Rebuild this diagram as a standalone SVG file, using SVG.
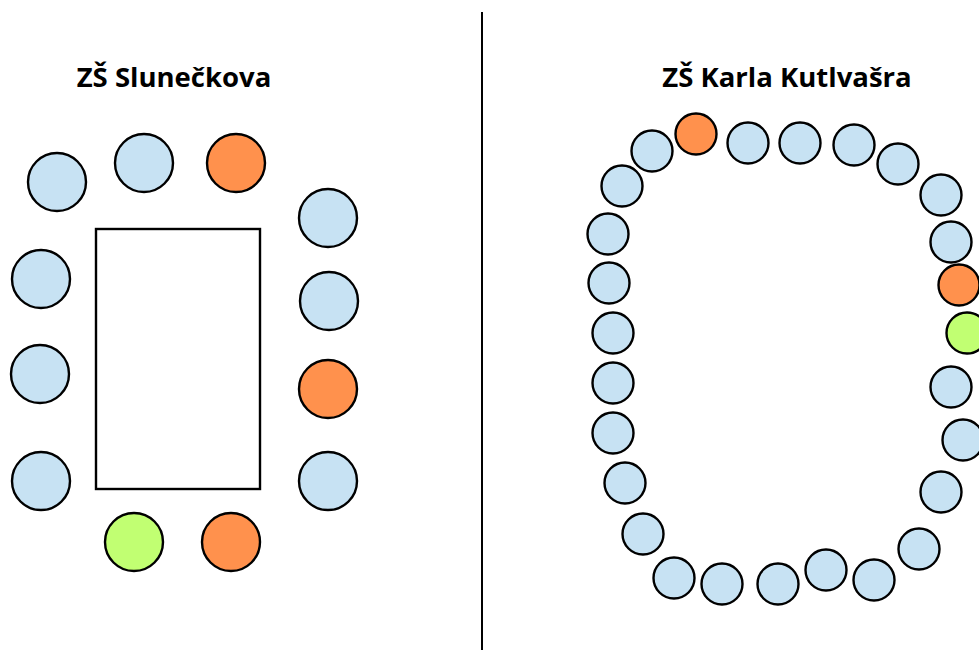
<svg xmlns="http://www.w3.org/2000/svg" width="979" height="650" viewBox="0 0 979 650">
<style>
.t{font-family:"Open Sans","Noto Sans","DejaVu Sans",sans-serif;font-weight:bold;font-size:27.5px;fill:#000;text-anchor:middle}
.s{stroke:#000;stroke-width:2.4}
.b{fill:#c7e2f3}
.o{fill:#ff914d}
.g{fill:#c1ff72}
</style>
<rect width="979" height="650" fill="#fff"/>
<line x1="482" y1="12" x2="482" y2="650" stroke="#000" stroke-width="2"/>
<g id="left">
<text class="t" x="174" y="87">ZŠ Slunečkova</text>
<rect id="table" x="96" y="229" width="164" height="260" fill="#fff" class="s"/>
<g class="L">
<circle id="l1" class="s b" cx="57" cy="182" r="29"/>
<circle id="l2" class="s b" cx="144" cy="163" r="29"/>
<circle id="l3" class="s o" cx="236" cy="163" r="29"/>
<circle id="l4" class="s b" cx="328" cy="218" r="29"/>
<circle id="l5" class="s b" cx="329" cy="301" r="29"/>
<circle id="l6" class="s o" cx="328" cy="389" r="29"/>
<circle id="l7" class="s b" cx="328" cy="481" r="29"/>
<circle id="l8" class="s o" cx="231" cy="542" r="29"/>
<circle id="l9" class="s g" cx="134" cy="542" r="29"/>
<circle id="l10" class="s b" cx="41" cy="481" r="29"/>
<circle id="l11" class="s b" cx="40" cy="374" r="29"/>
<circle id="l12" class="s b" cx="41" cy="279" r="29"/>
</g>
</g>
<g id="right">
<text class="t" x="787" y="87">ZŠ Karla Kutlvašra</text>
<g class="R">
<circle id="r1" class="s b" cx="652" cy="151" r="20.5"/>
<circle id="r2" class="s o" cx="696" cy="134" r="20.5"/>
<circle id="r3" class="s b" cx="748" cy="143" r="20.5"/>
<circle id="r4" class="s b" cx="800" cy="143" r="20.5"/>
<circle id="r5" class="s b" cx="854" cy="145" r="20.5"/>
<circle id="r6" class="s b" cx="898" cy="164" r="20.5"/>
<circle id="r7" class="s b" cx="941" cy="195" r="20.5"/>
<circle id="r8" class="s b" cx="951" cy="242" r="20.5"/>
<circle id="r9" class="s o" cx="959" cy="285" r="20.5"/>
<circle id="r10" class="s g" cx="967" cy="333" r="20.5"/>
<circle id="r11" class="s b" cx="951" cy="387" r="20.5"/>
<circle id="r12" class="s b" cx="963" cy="440" r="20.5"/>
<circle id="r13" class="s b" cx="941" cy="492" r="20.5"/>
<circle id="r14" class="s b" cx="919" cy="549" r="20.5"/>
<circle id="r15" class="s b" cx="874" cy="580" r="20.5"/>
<circle id="r16" class="s b" cx="826" cy="570" r="20.5"/>
<circle id="r17" class="s b" cx="778" cy="584" r="20.5"/>
<circle id="r18" class="s b" cx="722" cy="584" r="20.5"/>
<circle id="r19" class="s b" cx="674" cy="578" r="20.5"/>
<circle id="r20" class="s b" cx="643" cy="534" r="20.5"/>
<circle id="r21" class="s b" cx="625" cy="483" r="20.5"/>
<circle id="r22" class="s b" cx="613" cy="433" r="20.5"/>
<circle id="r23" class="s b" cx="613" cy="383" r="20.5"/>
<circle id="r24" class="s b" cx="613" cy="333" r="20.5"/>
<circle id="r25" class="s b" cx="609" cy="283" r="20.5"/>
<circle id="r26" class="s b" cx="608" cy="234" r="20.5"/>
<circle id="r27" class="s b" cx="622" cy="186" r="20.5"/>
</g>
</g>
</svg>
